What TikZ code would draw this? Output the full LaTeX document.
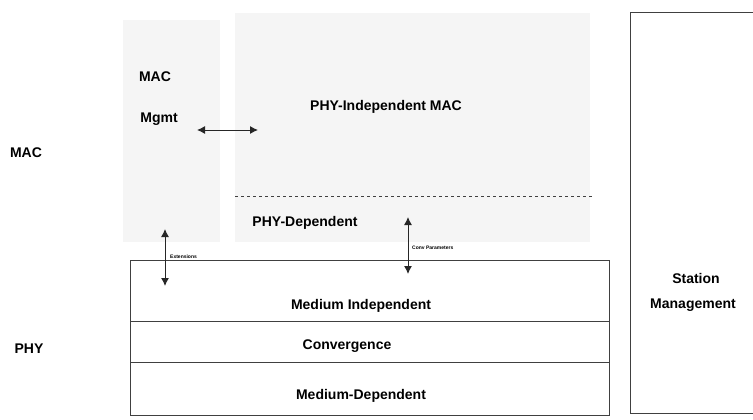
\documentclass[tikz,border=0pt]{standalone}
\usepackage{fontspec}
\setmainfont{Liberation Sans}
\usetikzlibrary{arrows.meta}
\tikzset{
  lbl/.style={font=\fontsize{14}{16}\selectfont\bfseries, inner sep=0pt},
  tinylbl/.style={font=\fontsize{5}{6}\selectfont\bfseries, inner sep=0pt, anchor=west},
  layer/.style={draw=black!75, line width=0.9pt},
  dbl/.style={{Latex[length=8pt,width=8pt]}-{Latex[length=8pt,width=8pt]}, line width=1pt, black!85}
}
\begin{document}
\begin{tikzpicture}[x=1pt,y=-1pt]
    \useasboundingbox (0,0) rectangle (753,420);
    % shaded MAC area
    \fill[black!4] (123,20) rectangle (220,242);
    \fill[black!4] (235,13) rectangle (590,242);
    \draw[dashed, black!75, line width=0.9pt] (235,196)--(593,196);
    % PHY layers
    \draw[layer] (130,260) rectangle (609,415);
    \draw[layer] (130,321)--(609,321);
    \draw[layer] (130,362)--(609,362);
    % station management box, cut at the right edge
    \draw[layer] (753,12)--(630,12)--(630,413)--(753,413);
    % labels
    \node[lbl] (mac) at (26,153) {MAC};
    \node[lbl] (phy) at (29,349) {PHY};
    \node[lbl] (macm) at (155,77) {MAC};
    \node[lbl] (mgmt) at (159,119) {Mgmt};
    \node[lbl] (indep) at (386,107) {PHY-Independent MAC};
    \node[lbl] (dep) at (305,223) {PHY-Dependent};
    \node[lbl] (medind) at (361,306) {Medium Independent};
    \node[lbl] (conv) at (347,346) {Convergence};
    \node[lbl] (meddep) at (361,396) {Medium-Dependent};
    \node[lbl] (station) at (696,278) {Station};
    \node[lbl] (mgmnt) at (693,305) {Management};
    % arrows
    \coordinate (ml) at (197,130);
    \coordinate (mr) at (258,130);
    \draw[dbl] (ml)--(mr);
    \coordinate (et) at (165,229);
    \coordinate (eb) at (165,286);
    \draw[dbl] (et)--(eb);
    \coordinate (ct) at (408,217);
    \coordinate (cb) at (408,274);
    \draw[dbl] (ct)--(cb);
    \node[tinylbl] (ext) at (170,257) {Extensions};
    \node[tinylbl] (cpar) at (412,248) {Conv Parameters};
\end{tikzpicture}
\end{document}
